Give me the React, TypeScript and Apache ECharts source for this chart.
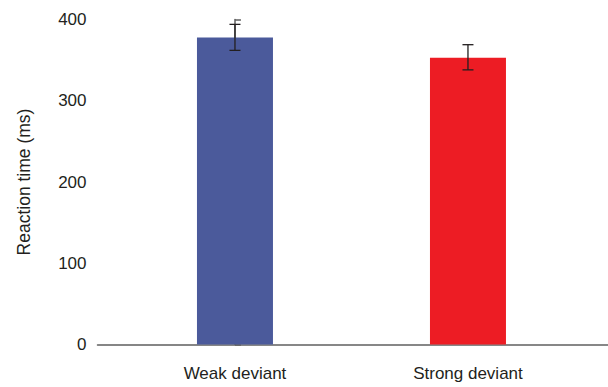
import React, { useEffect, useRef } from "react";
import * as echarts from "echarts";

const categories = ["Weak deviant", "Strong deviant"];
const meanRT = [378, 353];
const errLow = [362, 338];
const errHigh = [394, 369];
const yTicks = [0, 100, 200, 300, 400];
const barColors = ["#4B5A9B", "#ED1C24"];

export default function App() {
  const ref = useRef<HTMLDivElement>(null);
  useEffect(() => {
    if (!ref.current) return;
    const chart = echarts.init(ref.current, undefined, { renderer: "svg" });
    const font = "'Liberation Sans', Arial, sans-serif";
    const textColor = "#231F20";
    const axisColor = "#5F5F5F";
    chart.setOption({
      animation: false,
      backgroundColor: "#ffffff",
      grid: { left: 97.5, right: 0, top: 19.5, bottom: 42.5, containLabel: false },
      xAxis: {
        type: "value",
        min: -0.59,
        max: 1.601,
        axisLine: { show: true, lineStyle: { color: axisColor, width: 1.5 } },
        axisTick: { show: false },
        splitLine: { show: false },
        axisLabel: {
          customValues: [0, 1],
          formatter: (v: number) => categories[Math.round(v)] ?? "",
          fontSize: 17,
          color: textColor,
          fontFamily: font,
          margin: 20,
        },
      },
      yAxis: {
        type: "value",
        min: yTicks[0],
        max: yTicks[yTicks.length - 1],
        interval: 100,
        name: "Reaction time (ms)",
        nameLocation: "middle",
        nameGap: 65,
        nameTextStyle: { fontSize: 17.5, color: textColor, fontFamily: font },
        axisLine: { show: true, lineStyle: { color: axisColor, width: 1.5 } },
        axisTick: { show: true, inside: true, length: 6, lineStyle: { color: axisColor, width: 1.5 } },
        splitLine: { show: false },
        axisLabel: { fontSize: 17, color: textColor, fontFamily: font, margin: 11 },
      },
      series: [
        {
          type: "bar",
          barWidth: 76,
          data: meanRT.map((v, i) => ({
            value: [i, v],
            itemStyle: { color: barColors[i] },
          })),
        },
        {
          type: "custom",
          z: 10,
          data: meanRT.map((_, i) => [i, errLow[i], errHigh[i]]),
          renderItem: (params: any, api: any) => {
            const x = api.value(0);
            const lo = api.coord([x, api.value(1)]);
            const hi = api.coord([x, api.value(2)]);
            const half = 5.5;
            const style = { stroke: "#231F20", lineWidth: 1.3 };
            return {
              type: "group",
              children: [
                { type: "line", shape: { x1: lo[0], y1: lo[1], x2: hi[0], y2: hi[1] }, style },
                { type: "line", shape: { x1: lo[0] - half, y1: lo[1], x2: lo[0] + half, y2: lo[1] }, style },
                { type: "line", shape: { x1: hi[0] - half, y1: hi[1], x2: hi[0] + half, y2: hi[1] }, style },
              ],
            };
          },
        },
      ],
    });
    return () => chart.dispose();
  }, []);
  return <div ref={ref} style={{ width: 608, height: 387, position: "absolute", left: 0, top: 0 }} />;
}
